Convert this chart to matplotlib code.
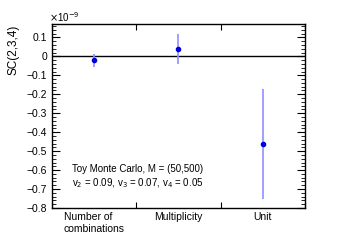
import matplotlib
matplotlib.use("Agg")
import matplotlib.pyplot as plt
from matplotlib.ticker import MultipleLocator, FixedLocator

plt.rcParams['font.family'] = ['Liberation Sans', 'DejaVu Sans']

categories = ["Number of\ncombinations", "Multiplicity", "Unit"]
values = [-0.021, 0.039, -0.463]
errors = [0.033, 0.078, 0.292]

fig = plt.figure(figsize=(3.39, 2.45), dpi=100)
ax = fig.add_axes([0.153, 0.151, 0.747, 0.749])

xs = [i + 0.5 for i in range(len(categories))]
ax.axhline(0, color='black', lw=1.0, zorder=1)
ax.errorbar(xs, values, yerr=errors, fmt='none', ecolor='#9090ff', elinewidth=1.2, zorder=2)
ax.plot(xs, values, 'o', color='#0000dd', ms=3.0, zorder=3)

ax.set_xlim(0, 3)
ax.set_ylim(-0.8, 0.168)
ax.xaxis.set_major_locator(FixedLocator([0, 1, 2, 3]))
ax.set_xticklabels([])
ax.xaxis.set_minor_locator(FixedLocator(xs))
ax.set_xticklabels(categories, minor=True)
for lab in ax.get_xticklabels(minor=True):
    lab.set_multialignment('left')
ax.tick_params(axis='x', which='minor', length=0, labelsize=7.5, pad=3)
ax.tick_params(axis='x', which='major', direction='in', length=4, top=True, width=0.8)

ax.yaxis.set_major_locator(MultipleLocator(0.1))
ax.yaxis.set_minor_locator(MultipleLocator(0.02))
ax.set_yticks([0.1, 0, -0.1, -0.2, -0.3, -0.4, -0.5, -0.6, -0.7, -0.8])
ax.set_yticklabels(["0.1", "0", "\u22120.1", "\u22120.2", "\u22120.3", "\u22120.4",
                    "\u22120.5", "\u22120.6", "\u22120.7", "\u22120.8"])
ax.tick_params(axis='y', which='major', direction='in', length=6, right=True, labelsize=7.5, width=0.8)
ax.tick_params(axis='y', which='minor', direction='in', length=3, right=True, width=0.6)
for s in ax.spines.values():
    s.set_linewidth(1.0)

ax.set_ylabel("SC(2,3,4)", fontsize=8.5, loc='top', labelpad=5, fontstyle='normal')
ax.text(-0.01, 1.005, r"$\times$10$^{-9}$", transform=ax.transAxes, fontsize=7, ha='left', va='bottom')

ax.text(0.08, 0.215, "Toy Monte Carlo, M = (50,500)", transform=ax.transAxes, fontsize=7, ha='left', va='center')
ax.text(0.08, 0.135, r"v$_2$ = 0.09, v$_3$ = 0.07, v$_4$ = 0.05", transform=ax.transAxes, fontsize=7, ha='left', va='center')

fig.savefig("out.png", dpi=100)
